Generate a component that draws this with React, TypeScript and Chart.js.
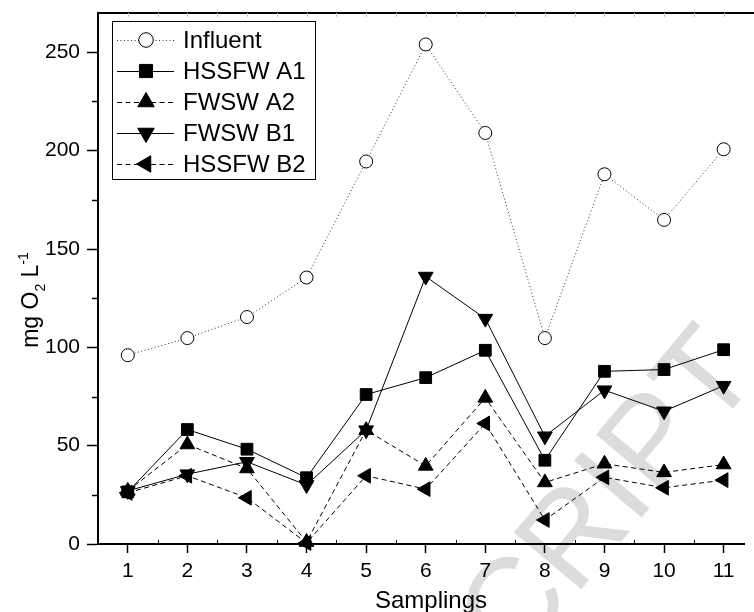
import React, { useEffect, useRef } from 'react';
import { Chart, registerables } from 'chart.js';
import { drawPoint } from 'chart.js/helpers';

Chart.register(...registerables);

const samplings = [1, 2, 3, 4, 5, 6, 7, 8, 9, 10, 11];
const yTickValues = [0, 50, 100, 150, 200, 250];
const influent = [96, 104.7, 115.4, 135.5, 194.5, 254, 209, 104.7, 188, 164.8, 200.7];
const hssfwA1 = [26.5, 58.2, 48.2, 33.7, 76, 84.6, 98.5, 42.6, 87.8, 88.7, 98.8];
const fwswA2 = [27, 50.6, 38.4, 1, 57.9, 39.7, 74.3, 31.3, 40.8, 36.4, 40.4];
const fwswB1 = [27, 35.5, 41.8, 30, 57.9, 136, 114.6, 54.8, 78.2, 67.5, 80.5];
const hssfwB2 = [26, 34.7, 23.5, 0.5, 34.7, 27.9, 61.3, 12.2, 33.9, 28.6, 32.5];
const seriesNames = ['Influent', 'HSSFW A1', 'FWSW A2', 'FWSW B1', 'HSSFW B2'];
const xTitle = 'Samplings';
const watermark = 'ACCEPTED MANUSCRIPT';

const FONT = "'Liberation Sans', Arial, sans-serif";

const toPoints = (vals: number[]) => vals.map((v, i) => ({ x: samplings[i], y: v }));

const decorPlugin = {
  id: 'decor',
  beforeDraw(chart: any) {
    const ctx = chart.ctx;
    ctx.save();
    ctx.fillStyle = '#ffffff';
    ctx.fillRect(0, 0, chart.width, chart.height);
    // watermark
    ctx.translate(762, 374);
    ctx.rotate((-50 * Math.PI) / 180);
    ctx.font = `128px ${FONT}`;
    ctx.fillStyle = '#dcdcdc';
    ctx.textAlign = 'right';
    ctx.textBaseline = 'alphabetic';
    ctx.fillText(watermark, 0, 0);
    ctx.restore();
  },
  afterDraw(chart: any) {
    const ctx = chart.ctx;
    const area = chart.chartArea;
    const xs = chart.scales.x;
    const ys = chart.scales.y;
    ctx.save();
    // top border
    ctx.strokeStyle = '#000';
    ctx.lineWidth = 2;
    ctx.beginPath();
    ctx.moveTo(area.left - 1, area.top);
    ctx.lineTo(chart.width, area.top);
    ctx.stroke();
    // minor y ticks
    ctx.lineWidth = 1.5;
    for (let v = 25; v < ys.max; v += 50) {
      const py = Math.round(ys.getPixelForValue(v)) + 0.5;
      ctx.beginPath();
      ctx.moveTo(area.left - 6, py);
      ctx.lineTo(area.left, py);
      ctx.stroke();
    }
    // minor x ticks (inward)
    ctx.lineWidth = 1;
    for (let v = 1.5; v < xs.max; v += 1) {
      const px = Math.round(xs.getPixelForValue(v)) + 0.5;
      ctx.beginPath();
      ctx.moveTo(px, area.bottom);
      ctx.lineTo(px, area.bottom - 4);
      ctx.stroke();
    }
    // faint top ticks
    ctx.strokeStyle = '#c8c8c8';
    for (let v = 1; v < xs.max; v += 0.5) {
      const px = Math.round(xs.getPixelForValue(v)) + 0.5;
      ctx.beginPath();
      ctx.moveTo(px, area.top);
      ctx.lineTo(px, area.top + 4);
      ctx.stroke();
    }
    // legend
    const bx = 112.5, by = 21.5, bw = 203, bh = 158;
    ctx.fillStyle = '#fff';
    ctx.fillRect(bx, by, bw, bh);
    ctx.strokeStyle = '#000';
    ctx.lineWidth = 1;
    ctx.setLineDash([]);
    ctx.strokeRect(bx, by, bw, bh);
    chart.data.datasets.forEach((ds: any, i: number) => {
      const y = 40 + i * 31;
      ctx.save();
      ctx.setLineDash(ds.borderDash || []);
      ctx.strokeStyle = ds.borderColor;
      ctx.lineWidth = ds.borderWidth;
      ctx.beginPath();
      ctx.moveTo(117, y + 0.5);
      ctx.lineTo(174, y + 0.5);
      ctx.stroke();
      ctx.setLineDash([]);
      ctx.fillStyle = ds.pointBackgroundColor;
      ctx.strokeStyle = ds.pointBorderColor;
      ctx.lineWidth = 1;
      drawPoint(ctx, { pointStyle: ds.pointStyle, rotation: ds.pointRotation || 0, radius: ds.pointRadius * 1.12, borderWidth: 1 }, 146, y);
      ctx.fillStyle = '#000';
      ctx.font = `24px ${FONT}`;
      ctx.textAlign = 'left';
      ctx.textBaseline = 'middle';
      ctx.fillText(ds.label, 183, y + 1);
      ctx.restore();
    });
    // x title
    ctx.fillStyle = '#000';
    ctx.font = `24px ${FONT}`;
    ctx.textAlign = 'center';
    ctx.textBaseline = 'alphabetic';
    ctx.fillText(xTitle, 431, 608);
    // y title
    ctx.save();
    ctx.translate(38, 300);
    ctx.rotate(-Math.PI / 2);
    const big = `23px ${FONT}`;
    const small = `14px ${FONT}`;
    const parts: [string, string, number][] = [
      ['mg O', big, 0],
      ['2', small, 7],
      [' L', big, 0],
      ['-1', small, -10],
    ];
    let total = 0;
    parts.forEach(([t, f]) => { ctx.font = f; total += ctx.measureText(t).width; });
    let cx = -total / 2;
    ctx.textAlign = 'left';
    parts.forEach(([t, f, dy]) => {
      ctx.font = f;
      ctx.fillText(t, cx, dy);
      cx += ctx.measureText(t).width;
    });
    ctx.restore();
    ctx.restore();
  },
};

export default function App() {
  const ref = useRef<HTMLCanvasElement | null>(null);
  useEffect(() => {
    if (!ref.current) return;
    const common = { borderColor: '#000', borderWidth: 1, pointBorderColor: '#000', pointBorderWidth: 1, clip: false as any, tension: 0 };
    const chart = new Chart(ref.current, {
      type: 'line',
      data: {
        datasets: [
          { ...common, label: seriesNames[0], data: toPoints(influent), borderColor: '#333', borderDash: [1, 2.5], pointStyle: 'circle', pointRadius: 6.5, pointBackgroundColor: '#fff' },
          { ...common, label: seriesNames[1], data: toPoints(hssfwA1), pointStyle: 'rect', pointRadius: 8.3, pointBackgroundColor: '#000' },
          { ...common, label: seriesNames[2], data: toPoints(fwswA2), borderDash: [5, 3.5], pointStyle: 'triangle', pointRadius: 8.5, pointBackgroundColor: '#000' },
          { ...common, label: seriesNames[3], data: toPoints(fwswB1), pointStyle: 'triangle', pointRotation: 180, pointRadius: 8.5, pointBackgroundColor: '#000' },
          { ...common, label: seriesNames[4], data: toPoints(hssfwB2), borderDash: [5, 3.5], pointStyle: 'triangle', pointRotation: 270, pointRadius: 8.5, pointBackgroundColor: '#000' },
        ] as any,
      },
      options: {
        animation: false,
        responsive: false,
        devicePixelRatio: 1,
        layout: { padding: { top: 13, left: 0, right: 0, bottom: 0 } },
        plugins: { legend: { display: false }, tooltip: { enabled: false } },
        scales: {
          x: {
            type: 'linear',
            min: 0.5,
            max: 11.35,
            afterBuildTicks: (s: any) => { s.ticks = samplings.map((v) => ({ value: v })); },
            afterFit: (s: any) => { s.height = 68; s.paddingLeft = 0; s.paddingRight = 0; },
            ticks: { font: { family: FONT, size: 21 }, color: '#000', padding: 6, maxRotation: 0, autoSkip: false },
            grid: { drawOnChartArea: false, tickLength: 9, tickColor: '#000', tickWidth: 1.5 },
            border: { color: '#000', width: 2 },
          },
          y: {
            type: 'linear',
            min: 0,
            max: 270,
            afterBuildTicks: (s: any) => { s.ticks = yTickValues.map((v) => ({ value: v })); },
            afterFit: (s: any) => { s.width = 98; s.paddingTop = 0; s.paddingBottom = 0; },
            ticks: { font: { family: FONT, size: 21 }, color: '#000', padding: 7 },
            grid: { drawOnChartArea: false, tickLength: 11, tickColor: '#000', tickWidth: 1.5 },
            border: { color: '#000', width: 2 },
          },
        } as any,
      },
      plugins: [decorPlugin],
    });
    return () => chart.destroy();
  }, []);
  return (
    <div style={{ position: 'fixed', left: 0, top: 0, width: 754, height: 612, overflow: 'hidden', background: '#fff' }}>
      <canvas ref={ref} width={754} height={612} style={{ display: 'block' }} />
    </div>
  );
}
